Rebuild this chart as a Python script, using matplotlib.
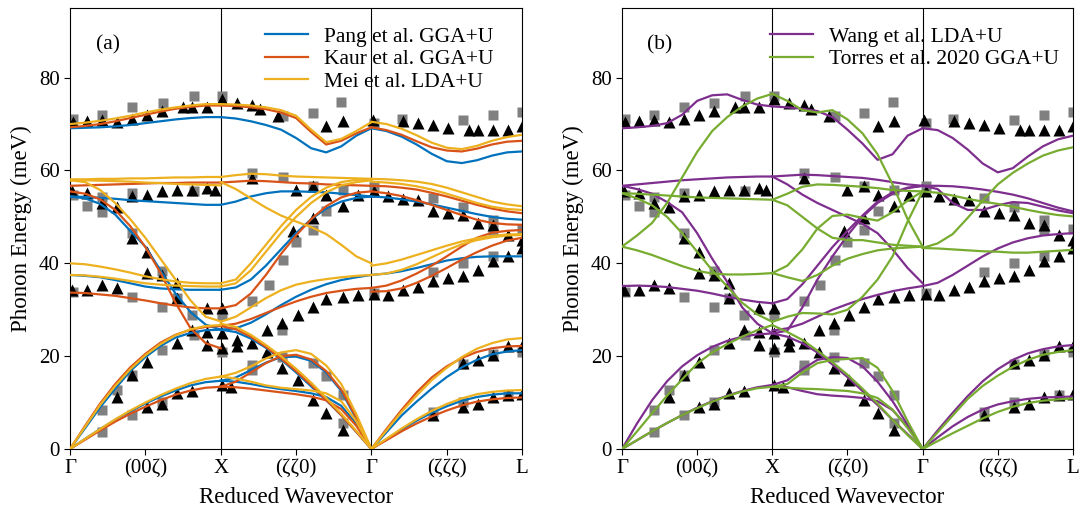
import matplotlib
matplotlib.use("Agg")
import matplotlib.pyplot as plt

plt.rcParams['font.family'] = ['Liberation Serif', 'DejaVu Serif']
plt.rcParams['mathtext.fontset'] = 'stix'

# reduced wavevector grid used inside each segment (G-X, X-G, G-L)
zeta = [0.0, 0.1, 0.2, 0.3, 0.4, 0.5, 0.6, 0.7, 0.8, 0.9, 1.0]
tick_pos = [0, 0.5, 1, 1.5, 2, 2.5, 3]
tick_labels = ['Γ', '(00ζ)', 'X', '(ζζ0)', 'Γ', '(ζζζ)', 'L']

# experimental points (x in path units, E in meV)
tri_x = [0.02, 0.11, 0.21, 0.31, 0.41, 0.51, 0.61, 0.75, 0.81, 0.91, 1.01, 1.11, 1.21, 1.26, 1.38,
         1.70, 1.81, 2.01, 2.21, 2.31, 2.41, 2.51, 2.65, 2.71, 2.81, 2.91, 3.0,
         0.01, 0.11, 0.21, 0.31, 0.41, 0.51, 0.61, 0.71, 0.81, 0.91, 0.96, 1.21, 1.50, 1.61, 1.70,
         1.81, 1.91, 2.02, 2.11, 2.21, 2.31, 2.41, 2.51, 2.61, 2.71, 2.81, 2.91, 3.0,
         0.41, 0.51, 1.48, 1.61,
         0.01, 0.11, 0.21, 0.31, 0.51, 0.61, 0.71, 0.71, 0.91, 1.01,
         0.91, 0.91, 1.01, 1.01, 1.11, 1.11, 1.21, 1.31, 1.41, 1.51, 1.61, 1.70, 1.81,
         1.31, 1.41, 1.51, 1.61, 1.70, 1.81, 1.91, 2.02,
         0.31, 0.41, 0.51, 0.71, 0.81, 0.51, 0.61, 0.71, 0.81, 1.01, 1.07,
         2.11, 2.21, 2.31, 2.41, 2.51, 2.61, 2.71, 2.81, 2.91, 3.0,
         2.41, 2.61, 2.71, 2.81, 2.91, 3.0, 2.61, 2.71, 2.81, 2.91, 3.0]
tri_E = [70.5, 70.6, 70.8, 70.4, 71.1, 72.0, 72.9, 73.6, 73.6, 73.6, 75.3, 74.5, 74.0, 73.3, 71.8,
         69.5, 70.6, 70.8, 70.6, 70.2, 69.7, 69.2, 68.8, 68.8, 68.8, 68.8, 69.5,
         55.5, 55.1, 53.0, 52.2, 54.4, 54.8, 55.5, 55.8, 55.8, 56.2, 55.7, 58.4, 55.8, 56.7, 54.8,
         52.4, 54.8, 55.5, 54.4, 53.8, 53.7, 51.2, 50.8, 50.5, 48.7, 48.3, 46.1, 45.1,
         45.4, 42.5, 46.9, 49.7,
         34.3, 34.3, 35.4, 34.7, 37.9, 37.5, 35.7, 32.6, 30.3, 30.3,
         25.3, 22.4, 24.9, 21.7, 23.5, 22.1, 22.8, 21.0, 17.4, 14.9, 10.6, 7.7, 4.1,
         25.7, 27.1, 28.9, 30.7, 32.3, 32.7, 33.2, 33.4,
         11.3, 15.9, 18.8, 22.8, 25.7, 9.1, 9.8, 12.0, 12.4, 13.8, 13.4,
         33.2, 34.3, 35.0, 36.1, 36.8, 37.2, 38.5, 40.4, 41.5, 43.3,
         7.3, 9.1, 9.8, 11.3, 11.6, 11.8, 18.5, 19.2, 20.3, 22.1, 22.2]

sq_x = [0.02, 0.21, 0.41, 0.615, 0.82, 1.01, 1.415, 1.61, 1.80, 2.02, 2.20, 2.61, 2.81, 3.0,
        0.02, 0.11, 0.21, 0.21, 0.41, 0.41, 0.82, 1.21, 1.415, 1.61, 1.61, 1.70, 1.81, 2.02,
        1.50, 1.415, 2.41, 2.61, 2.81, 2.81, 3.0, 0.61,
        0.02, 0.41, 0.61, 0.71, 0.81, 0.82, 1.01, 1.01, 1.21, 1.32, 1.41, 2.02, 2.41, 2.61, 2.81,
        0.21, 0.41, 0.61, 0.21, 0.31, 0.41, 0.61, 1.21, 1.21, 1.41, 1.61, 1.70, 1.81, 1.81,
        2.41, 2.61, 2.91, 2.61, 2.81, 3.0]
sq_E = [71.1, 72.0, 73.6, 74.5, 76.0, 76.1, 71.7, 72.4, 74.7, 70.2, 71.1, 70.9, 72.0, 72.7,
        54.8, 52.4, 54.2, 51.0, 55.1, 46.5, 55.5, 59.4, 58.7, 56.7, 47.1, 51.2, 55.8, 56.6,
        44.7, 40.8, 54.1, 52.2, 49.4, 47.1, 47.3, 38.4,
        33.9, 32.8, 30.7, 32.6, 28.9, 24.5, 28.9, 21.0, 31.8, 35.4, 25.7, 33.6, 38.2, 40.0, 41.5,
        3.7, 7.3, 10.2, 8.4, 12.7, 16.0, 21.3, 18.1, 17.0, 19.9, 18.5, 15.7, 11.6, 5.6,
        7.9, 10.2, 11.6, 18.3, 20.4, 21.0]

# ---- Pang et al. GGA+U ----
pang_gx = [
    [69.1, 69.2, 69.3, 69.5, 69.8, 70.2, 70.6, 71.0, 71.3, 71.5, 71.5],
    [54.4, 54.3, 54.1, 53.9, 53.6, 53.4, 53.2, 53.0, 52.8, 52.6, 52.6],
    [54.4, 54.0, 52.8, 50.5, 47.0, 43.6, 38.5, 33.5, 29.5, 26.8, 25.7],
    [37.5, 37.3, 37.0, 36.4, 35.7, 35.0, 34.6, 34.4, 34.3, 34.3, 34.3],
    [0.0, 4.5, 9.0, 13.0, 16.8, 19.8, 22.2, 24.0, 25.0, 25.6, 25.7],
    [0.0, 2.2, 4.3, 6.3, 8.1, 9.8, 11.3, 12.6, 13.7, 14.4, 14.7],
]
pang_xg = [
    [71.5, 71.2, 70.6, 69.8, 68.8, 67.0, 64.8, 63.9, 65.2, 67.5, 69.1],
    [52.6, 53.3, 54.4, 55.1, 55.5, 55.5, 55.4, 55.3, 55.0, 54.7, 54.4],
    [34.3, 34.8, 36.5, 39.5, 43.0, 46.5, 49.5, 51.8, 53.3, 54.1, 54.4],
    [25.7, 26.0, 27.2, 29.0, 31.0, 32.8, 34.3, 35.5, 36.4, 37.0, 37.5],
    [25.7, 25.2, 23.8, 21.8, 19.3, 16.5, 13.5, 10.5, 7.3, 3.7, 0.0],
    [14.7, 15.4, 17.0, 18.6, 19.8, 19.9, 19.0, 16.5, 12.5, 6.5, 0.0],
    [14.7, 14.5, 14.0, 13.4, 12.9, 12.5, 12.0, 11.2, 9.3, 5.4, 0.0],
]
pang_gl = [
    [69.1, 68.5, 67.3, 65.6, 63.6, 62.0, 61.6, 62.2, 63.2, 63.9, 64.1],
    [54.4, 54.2, 53.8, 53.3, 52.7, 52.0, 51.3, 50.6, 50.0, 49.6, 49.4],
    [37.5, 37.8, 38.3, 39.0, 39.8, 40.6, 41.1, 41.4, 41.5, 41.5, 41.5],
    [0.0, 3.6, 7.2, 10.2, 13.0, 15.5, 17.6, 19.2, 20.4, 21.0, 21.3],
    [0.0, 2.1, 4.2, 6.1, 7.8, 9.2, 10.4, 11.2, 11.7, 12.0, 12.0],
]

# ---- Kaur et al. GGA+U ----
kaur_gx = [
    [69.3, 69.6, 70.0, 70.6, 71.3, 72.0, 72.7, 73.3, 73.7, 74.0, 74.0],
    [56.7, 56.8, 56.9, 57.0, 57.1, 57.2, 57.3, 57.3, 57.4, 57.4, 57.4],
    [55.5, 55.0, 53.8, 51.5, 48.0, 43.5, 38.0, 31.5, 26.0, 22.8, 21.7],
    [33.7, 33.6, 33.3, 33.0, 32.5, 32.0, 31.4, 30.9, 30.5, 30.3, 30.3],
    [0.0, 5.0, 9.8, 14.0, 17.6, 20.5, 22.9, 24.6, 25.7, 26.3, 26.5],
    [0.0, 2.0, 4.0, 5.9, 7.6, 9.1, 10.5, 11.7, 12.6, 13.2, 13.4],
]
kaur_xg = [
    [74.0, 73.9, 73.6, 73.2, 72.5, 71.3, 68.3, 65.6, 66.4, 68.0, 69.3],
    [57.4, 57.6, 57.8, 57.7, 57.5, 57.3, 57.2, 57.0, 56.9, 56.8, 56.7],
    [30.3, 31.0, 33.5, 37.5, 42.0, 46.0, 49.5, 52.3, 54.2, 55.2, 55.5],
    [26.5, 27.0, 28.0, 29.3, 30.6, 31.8, 32.8, 33.6, 34.1, 34.5, 34.7],
    [26.5, 25.8, 24.2, 22.0, 19.5, 16.8, 13.8, 10.6, 7.3, 3.7, 0.0],
    [13.4, 14.5, 16.5, 18.5, 20.0, 20.3, 19.3, 16.8, 12.8, 6.8, 0.0],
    [13.4, 13.3, 13.0, 12.6, 12.2, 11.8, 11.3, 10.5, 8.6, 5.0, 0.0],
]
kaur_gl = [
    [69.3, 68.7, 67.7, 66.3, 65.0, 64.3, 64.1, 64.7, 65.6, 66.2, 66.4],
    [56.7, 56.6, 56.3, 55.9, 55.2, 54.4, 53.5, 52.6, 51.8, 51.2, 50.8],
    [55.5, 55.1, 54.5, 53.6, 52.6, 51.5, 50.4, 49.4, 48.7, 48.4, 48.3],
    [34.7, 35.2, 36.3, 37.8, 39.5, 41.5, 43.6, 45.5, 46.6, 47.0, 47.2],
    [33.9, 34.0, 34.6, 35.8, 37.3, 39.0, 40.8, 42.4, 43.8, 44.9, 45.5],
    [0.0, 4.3, 8.4, 12.2, 15.4, 17.8, 19.6, 20.9, 21.7, 22.1, 22.2],
    [0.0, 1.9, 3.8, 5.5, 7.0, 8.3, 9.4, 10.2, 10.7, 11.0, 11.1],
]

# ---- Mei et al. LDA+U ----
mei_gx = [
    [70.0, 70.3, 70.7, 71.2, 71.8, 72.5, 73.1, 73.6, 74.0, 74.3, 74.3],
    [58.1, 58.1, 58.2, 58.2, 58.3, 58.3, 58.4, 58.5, 58.5, 58.6, 58.6],
    [57.9, 57.9, 57.8, 57.7, 57.6, 57.4, 57.3, 57.1, 57.0, 56.9, 56.8],
    [57.9, 57.5, 55.8, 53.0, 49.5, 45.5, 41.0, 36.5, 32.0, 28.5, 27.5],
    [40.0, 39.8, 39.3, 38.7, 38.0, 37.2, 36.6, 36.1, 35.8, 35.7, 35.7],
    [37.5, 37.4, 37.1, 36.7, 36.2, 35.7, 35.4, 35.2, 35.1, 35.0, 35.0],
    [0.0, 4.8, 9.5, 13.6, 17.2, 20.2, 22.6, 24.5, 25.8, 26.5, 26.7],
    [0.0, 2.2, 4.3, 6.4, 8.3, 10.0, 11.6, 13.0, 14.2, 15.1, 15.6],
]
mei_xg = [
    [74.3, 74.2, 74.0, 73.6, 73.0, 71.8, 68.8, 66.1, 66.8, 68.5, 70.4],
    [58.6, 59.0, 59.3, 59.2, 58.9, 58.7, 58.6, 58.5, 58.4, 58.3, 58.2],
    [57.5, 56.0, 54.0, 52.0, 50.3, 49.0, 47.8, 46.3, 44.0, 41.5, 40.0],
    [35.7, 36.5, 40.0, 44.0, 48.0, 51.5, 54.3, 56.3, 57.5, 58.0, 58.0],
    [35.0, 35.7, 38.5, 42.5, 46.5, 50.0, 53.0, 55.3, 56.8, 57.5, 57.9],
    [27.4, 28.5, 30.5, 32.5, 34.2, 35.4, 36.1, 36.6, 37.0, 37.3, 37.5],
    [27.0, 26.3, 24.6, 22.4, 20.0, 17.3, 14.3, 11.0, 7.6, 3.9, 0.0],
    [15.6, 16.4, 17.8, 19.5, 20.8, 21.3, 20.5, 18.0, 14.0, 7.5, 0.0],
    [15.6, 15.2, 14.5, 13.7, 13.2, 12.9, 12.6, 12.0, 10.3, 6.0, 0.0],
]
mei_gl = [
    [70.5, 70.0, 69.0, 67.6, 66.0, 64.9, 64.6, 65.3, 66.4, 67.2, 67.7],
    [58.2, 58.1, 57.9, 57.6, 57.1, 56.3, 55.3, 54.3, 53.3, 52.7, 52.3],
    [57.6, 57.4, 57.1, 56.6, 55.9, 55.0, 54.0, 53.0, 52.2, 51.7, 51.5],
    [39.5, 40.0, 40.8, 41.8, 42.8, 43.8, 44.7, 45.4, 45.9, 46.2, 46.3],
    [37.5, 37.8, 38.6, 39.8, 41.3, 42.8, 44.1, 45.0, 45.6, 46.0, 46.1],
    [0.0, 4.0, 8.0, 11.5, 14.8, 17.5, 19.8, 21.6, 22.8, 23.6, 23.9],
    [0.0, 2.2, 4.4, 6.4, 8.2, 9.7, 10.9, 11.8, 12.3, 12.6, 12.7],
]

# ---- Wang et al. LDA+U ----
wang_gx = [
    [69.1, 69.3, 69.6, 70.2, 72.0, 75.0, 76.2, 76.4, 75.2, 74.2, 73.8],
    [56.7, 57.0, 57.3, 57.6, 57.9, 58.1, 58.3, 58.5, 58.6, 58.7, 58.7],
    [56.7, 56.0, 55.0, 53.2, 51.0, 46.5, 41.0, 36.0, 30.5, 27.0, 24.9],
    [35.1, 35.2, 35.1, 34.9, 34.5, 34.1, 33.5, 32.8, 32.2, 31.7, 31.4],
    [0.0, 5.5, 10.5, 14.6, 17.8, 20.2, 22.0, 23.3, 24.2, 24.7, 24.9],
    [0.0, 1.9, 3.8, 5.6, 7.3, 8.9, 10.3, 11.5, 12.5, 13.3, 13.8],
]
wang_xg = [
    [73.8, 73.6, 73.3, 72.8, 71.5, 68.8, 65.8, 62.3, 63.5, 67.5, 69.1],
    [58.7, 58.9, 59.1, 59.0, 58.8, 58.6, 58.4, 58.0, 57.5, 57.0, 56.7],
    [58.7, 57.0, 54.8, 53.0, 51.5, 50.0, 48.5, 46.5, 43.0, 39.0, 35.7],
    [31.4, 32.3, 35.5, 39.5, 43.5, 47.0, 50.3, 53.3, 55.3, 56.3, 56.7],
    [24.9, 25.5, 30.5, 36.5, 41.5, 46.0, 50.0, 53.0, 55.0, 56.2, 56.7],
    [25.5, 26.0, 27.0, 28.5, 30.0, 31.2, 32.3, 33.2, 34.0, 34.6, 35.1],
    [24.9, 24.2, 22.8, 20.8, 18.2, 15.5, 12.5, 9.5, 6.3, 3.2, 0.0],
    [13.8, 14.8, 17.2, 19.2, 19.8, 19.6, 17.8, 14.5, 10.3, 5.2, 0.0],
    [13.8, 13.3, 12.5, 11.8, 11.5, 11.3, 11.0, 10.3, 8.4, 4.8, 0.0],
]
wang_gl = [
    [69.1, 68.7, 67.0, 64.5, 61.5, 59.6, 60.5, 63.0, 65.2, 66.7, 67.5],
    [56.7, 56.7, 56.6, 56.3, 55.9, 55.4, 54.8, 54.0, 53.0, 52.0, 51.2],
    [56.7, 56.0, 53.0, 51.5, 51.5, 52.5, 53.2, 53.0, 52.2, 51.4, 50.8],
    [35.1, 35.8, 37.5, 39.5, 41.5, 43.2, 44.5, 45.4, 46.0, 46.3, 46.5],
    [0.0, 4.0, 7.8, 11.4, 14.6, 17.2, 19.2, 20.6, 21.5, 22.1, 22.4],
    [0.0, 2.5, 4.9, 6.9, 8.5, 9.6, 10.3, 10.8, 11.1, 11.2, 11.3],
]

# ---- Torres et al. 2020 GGA+U ----
torres_gx = [
    [43.6, 46.0, 48.7, 53.0, 58.5, 64.0, 68.5, 71.5, 73.8, 75.5, 76.5],
    [55.1, 55.0, 54.8, 54.6, 54.4, 54.2, 54.1, 54.0, 53.9, 53.8, 53.7],
    [55.1, 54.0, 52.5, 50.0, 46.5, 42.5, 38.5, 35.0, 31.5, 29.0, 27.4],
    [43.6, 42.8, 41.8, 40.6, 39.4, 38.4, 37.8, 37.6, 37.6, 37.7, 37.9],
    [0.0, 3.8, 7.7, 11.5, 15.0, 18.4, 20.8, 22.6, 24.2, 25.6, 26.7],
    [0.0, 1.9, 3.8, 5.6, 7.3, 8.8, 10.2, 11.4, 12.4, 13.1, 13.4],
]
torres_xg = [
    [76.5, 75.0, 73.0, 72.5, 73.0, 71.0, 68.0, 63.5, 57.0, 49.5, 43.6],
    [53.7, 55.0, 56.5, 57.0, 56.9, 56.7, 56.5, 56.2, 55.8, 55.6, 55.5],
    [53.7, 52.5, 50.0, 47.5, 45.5, 45.0, 45.0, 44.5, 44.0, 43.8, 43.6],
    [37.9, 39.5, 43.0, 47.5, 50.2, 50.5, 49.8, 49.2, 51.0, 53.5, 55.5],
    [37.9, 37.0, 36.2, 37.5, 39.5, 41.0, 42.0, 42.8, 43.2, 43.4, 43.6],
    [27.4, 28.5, 29.3, 29.2, 29.0, 30.0, 32.8, 36.5, 41.5, 49.0, 55.5],
    [26.7, 25.2, 23.5, 21.2, 18.7, 16.0, 13.0, 9.8, 6.3, 3.0, 0.0],
    [13.4, 14.0, 16.5, 18.5, 19.2, 19.4, 19.6, 17.5, 12.5, 6.0, 0.0],
    [13.4, 13.2, 13.0, 12.9, 12.7, 12.5, 12.0, 11.0, 8.5, 4.5, 0.0],
]
torres_gl = [
    [55.5, 55.2, 54.6, 53.9, 53.3, 52.8, 52.2, 51.5, 50.9, 50.4, 50.1],
    [43.3, 44.3, 46.3, 49.8, 53.5, 57.0, 59.5, 61.5, 63.2, 64.3, 65.0],
    [43.3, 43.2, 43.0, 42.8, 42.6, 42.5, 42.3, 42.3, 42.5, 42.7, 42.9],
    [0.0, 3.6, 7.2, 10.8, 13.6, 15.8, 17.7, 19.2, 20.3, 20.9, 21.3],
    [0.0, 1.7, 3.4, 5.0, 6.6, 8.0, 9.1, 9.9, 10.4, 10.7, 10.9],
]


def plot_model(ax, segments, color, label):
    first = True
    for off, branches in enumerate(segments):
        for br in branches:
            ax.plot([off + z for z in zeta], br, color=color, lw=1.6,
                    label=label if first else None, zorder=3)
            first = False


def setup_axes(ax, panel):
    ax.plot(sq_x, sq_E, 's', color='#808080', ms=7, mec='none', zorder=2)
    ax.plot(tri_x, tri_E, '^', color='black', ms=8, mec='none', zorder=2)
    for xv in [1, 2]:
        ax.axvline(xv, color='black', lw=0.8, zorder=1)
    ax.set_xlim(0, 3)
    ax.set_ylim(0, 95)
    ax.set_xticks(tick_pos)
    ax.set_xticklabels(tick_labels)
    ax.set_yticks([0, 20, 40, 60, 80])
    ax.tick_params(direction='out', labelsize=15, length=4)
    ax.set_xlabel('Reduced Wavevector', fontsize=16.5, labelpad=6)
    ax.set_ylabel('Phonon Energy (meV)', fontsize=16.5, labelpad=5)
    ax.text(0.25, 87, panel, fontsize=15.5, ha='center', va='center')


def add_legend(ax, x0):
    ax.legend(loc='upper left', bbox_to_anchor=(x0, 0.958), frameon=False,
              fontsize=15.5, handlelength=2.0, handletextpad=0.75,
              borderpad=0.0, borderaxespad=0.0, labelspacing=0.12)


fig = plt.figure(figsize=(10.84, 5.17), dpi=100)
ax1 = fig.add_axes([0.0646, 0.1315, 0.417, 0.853])
ax2 = fig.add_axes([0.5738, 0.1315, 0.416, 0.853])

setup_axes(ax1, '(a)')
plot_model(ax1, [pang_gx, pang_xg, pang_gl], '#0072BD', 'Pang et al. GGA+U')
plot_model(ax1, [kaur_gx, kaur_xg, kaur_gl], '#D95319', 'Kaur et al. GGA+U')
plot_model(ax1, [mei_gx, mei_xg, mei_gl], '#EDB120', 'Mei et al. LDA+U')
add_legend(ax1, 0.431)

setup_axes(ax2, '(b)')
plot_model(ax2, [wang_gx, wang_xg, wang_gl], '#7E2F8E', 'Wang et al. LDA+U')
plot_model(ax2, [torres_gx, torres_xg, torres_gl], '#77AC30', 'Torres et al. 2020 GGA+U')
add_legend(ax2, 0.328)

fig.savefig('out.png', dpi=100)
